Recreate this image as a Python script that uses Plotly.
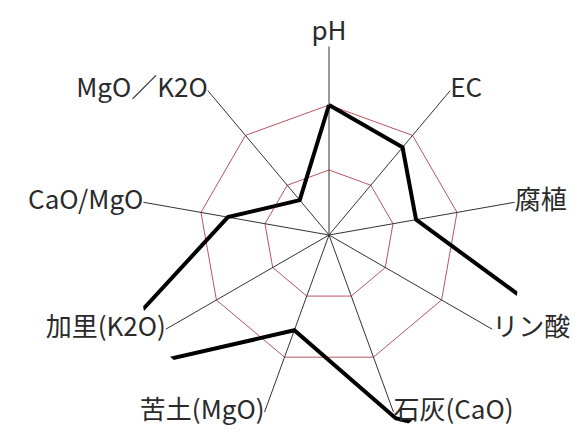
import plotly.graph_objects as go

# axis labels, clockwise from the top
labels = ["pH", "EC", "腐植", "リン酸", "石灰(CaO)", "苦土(MgO)", "加里(K2O)", "CaO/MgO", "MgO／K2O"]
# soil values, scaled so that the outer red ring is 100
values = [100, 88, 68, 451, 150, 78, 223, 79, 35]
rings = [50, 100]
spoke_len = 145
label_pos = ["top center", "middle right", "middle right", "middle right", "middle right",
             "middle left", "middle left", "middle left", "middle left"]

font = "Noto Sans CJK JP"

# spokes from the centre to each label
spoke_r, spoke_t = [], []
for lab in labels:
    spoke_r += [0, spoke_len, None]
    spoke_t += [lab, lab, None]

fig = go.Figure()
fig.add_trace(go.Scatterpolar(
    r=spoke_r, theta=spoke_t, mode="lines",
    line=dict(color="#333333", width=1), hoverinfo="skip",
))
fig.add_trace(go.Scatterpolar(
    r=values + values[:1], theta=labels + labels[:1], mode="lines",
    line=dict(color="black", width=4),
))
fig.add_trace(go.Scatterpolar(
    r=[spoke_len] * len(labels), theta=labels, mode="text",
    text=labels, textposition=label_pos, cliponaxis=False,
    textfont=dict(family=font, size=26, color="#2a2a2a"), hoverinfo="skip",
))

fig.update_layout(
    width=578, height=435,
    margin=dict(l=0, r=0, t=0, b=0),
    paper_bgcolor="white",
    showlegend=False,
    polar=dict(
        domain=dict(x=[113 / 578, 529 / 578], y=[0, 416 / 435]),
        bgcolor="white",
        gridshape="linear",
        radialaxis=dict(range=[0, 208 / 1.3], tickvals=rings, showticklabels=False,
                        showline=False, ticks="", gridcolor="rgb(185,85,95)", gridwidth=1),
        angularaxis=dict(direction="clockwise", rotation=90, showgrid=False,
                         showline=False, showticklabels=False, ticks="",
                         categoryorder="array", categoryarray=labels),
    ),
)

fig.write_html("out.html")
